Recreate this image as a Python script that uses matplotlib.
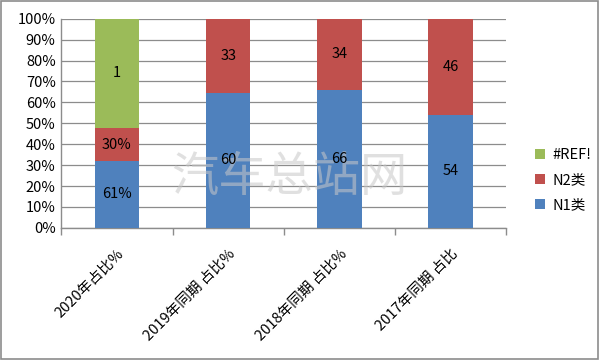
import numpy as np
import matplotlib
matplotlib.use('Agg')
from matplotlib import pyplot as plt
from matplotlib.patches import Rectangle

plt.rcParams['font.family'] = ['Noto Sans CJK SC', 'DejaVu Sans']

categories = ['2020年占比%', '2019年同期 占比%', '2018年同期 占比%', '2017年同期 占比']
n1 = [0.61, 60, 66, 54]
n2 = [0.30, 33, 34, 46]
ref = [1, 0, 0, 0]
n1_labels = ['61%', '60', '66', '54']
n2_labels = ['30%', '33', '34', '46']
ref_labels = ['1', '', '', '']
yticks = [0, 10, 20, 30, 40, 50, 60, 70, 80, 90, 100]

c_n1 = '#4f81bd'
c_n2 = '#c0504d'
c_ref = '#9bbb59'


def main():
    fig = plt.figure(figsize=(6, 3.6), dpi=100)
    ax = fig.add_axes([0.102, 0.367, 0.742, 0.581])

    data = np.array([n1, n2, ref], dtype=float)
    pct = data / data.sum(axis=0) * 100
    x = np.arange(len(categories))
    w = 0.40

    bottom = np.zeros(len(categories))
    series = [(pct[0], c_n1, 'N1类', n1_labels),
              (pct[1], c_n2, 'N2类', n2_labels),
              (pct[2], c_ref, '#REF!', ref_labels)]
    handles = []
    for vals, col, name, labs in series:
        b = ax.bar(x, vals, w, bottom=bottom, color=col, zorder=3, label=name)
        handles.append(b)
        for xi, v, bt, lab in zip(x, vals, bottom, labs):
            if v > 0 and lab:
                ax.text(xi, bt + v / 2, lab, ha='center', va='center',
                        fontsize=10.5, color='black', zorder=5)
        bottom = bottom + vals

    ax.set_xlim(-0.5, len(categories) - 0.5)
    ax.set_ylim(0, 100)
    ax.set_yticks(yticks)
    ax.set_yticklabels([f'{t}%' for t in yticks], fontsize=10.5)
    ax.yaxis.grid(True, color='#8c8c8c', linewidth=0.9, zorder=0)
    ax.tick_params(axis='y', length=0, pad=4)

    ax.set_xticks(np.arange(len(categories) + 1) - 0.5)
    ax.set_xticklabels([])
    ax.tick_params(axis='x', length=5, color='#8c8c8c', width=1)
    for xi, lab in zip(x, categories):
        ax.text(xi, -9, lab, rotation=45, ha='right', va='top',
                rotation_mode='anchor', fontsize=10.5, transform=ax.transData,
                clip_on=False)

    for s in ['top', 'right']:
        ax.spines[s].set_visible(False)
    for s in ['left', 'bottom']:
        ax.spines[s].set_color('#8c8c8c')
        ax.spines[s].set_linewidth(1)

    # watermark, between bars and their labels
    ax.text(0.483, 0.505, '汽车总站网', fontsize=34, color='#c8c8c8', alpha=0.55,
            ha='center', va='center', zorder=4, transform=fig.transFigure,
            clip_on=False)

    fig.legend(handles[::-1], ['#REF!', 'N2类', 'N1类'],
               loc='center left', bbox_to_anchor=(0.87, 0.5),
               frameon=False, fontsize=10.5, handlelength=0.7,
               handleheight=0.7, labelspacing=0.75, handletextpad=0.5)

    fig.patches.append(Rectangle((0.002, 0.003), 0.995, 0.993, transform=fig.transFigure,
                                 fill=False, edgecolor='#8c8c8c', linewidth=1.2))
    fig.savefig('out.png', dpi=100)


if __name__ == "__main__":
    main()
